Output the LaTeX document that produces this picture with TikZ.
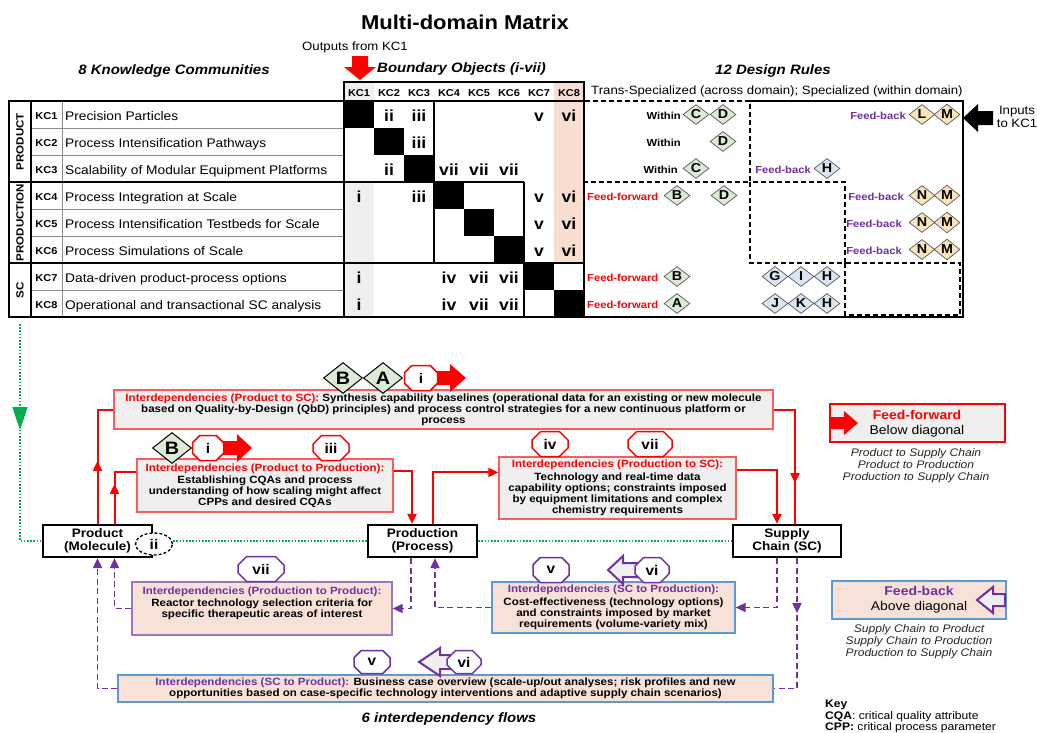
\documentclass[tikz,border=0pt]{standalone}
\usepackage{fontspec}
\setmainfont{Liberation Sans}[FakeStretch=1.1]
\usetikzlibrary{shapes.geometric,shapes.misc,arrows.meta,calc,decorations.markings}

\definecolor{ffred}{HTML}{FF0000}
\definecolor{fbpurple}{HTML}{7030A0}
\definecolor{boxgray}{HTML}{EFEFEF}
\definecolor{peach}{HTML}{F8E2D7}
\definecolor{pinkcol}{HTML}{F8DDD2}
\definecolor{kcgray}{HTML}{EFEFEF}
\definecolor{softred}{HTML}{FF5A5A}
\definecolor{sblue}{HTML}{5B9BD5}
\definecolor{ppedge}{HTML}{9A78C0}
\definecolor{dgreen}{HTML}{DCEBD5}
\definecolor{dblue}{HTML}{DAE6F3}
\definecolor{dyellow}{HTML}{FCE5B8}
\definecolor{dotgreen}{HTML}{00B050}
\definecolor{rulegray}{HTML}{8C8C8C}

\begin{document}
\begin{tikzpicture}[x=1pt,y=-1pt,
  every node/.style={inner sep=0pt},
  maintitle/.style={font=\fontsize{20}{24}\selectfont\bfseries, anchor=base},
  sechead/.style={font=\fontsize{13.6}{16}\selectfont\bfseries\itshape, anchor=base},
  plaintxt/.style={font=\fontsize{12}{14}\selectfont, anchor=base},
  kcname/.style={font=\fontsize{12.5}{14}\selectfont, anchor=base west},
  kclab/.style={font=\fontsize{10}{11}\selectfont\bfseries, anchor=base},
  domlab/.style={font=\fontsize{10.5}{12}\selectfont\bfseries, rotate=90},
  bonum/.style={font=\fontsize{16}{17}\selectfont\bfseries, anchor=base},
  dia/.style={diamond, draw=black!65, line width=0.7pt, minimum width=26pt, minimum height=20pt, font=\fontsize{13}{13}\selectfont\bfseries},
  dgr/.style={dia, fill=dgreen},
  dbl/.style={dia, fill=dblue},
  dyl/.style={dia, fill=dyellow},
  bigdia/.style={diamond, draw=black, line width=1pt, fill=dgreen, minimum width=39pt, minimum height=31pt, font=\fontsize{18}{20}\selectfont\bfseries},
  withinlab/.style={font=\fontsize{10.2}{11}\selectfont\bfseries, anchor=base east},
  ffw/.style={font=\fontsize{10.2}{11}\selectfont\bfseries, text=ffred, anchor=base west},
  fbk/.style={font=\fontsize{10.2}{11}\selectfont\bfseries, text=fbpurple, anchor=base east},
  dashbox/.style={draw=black, line width=1.2pt, dash pattern=on 5pt off 3pt},
  domainbox/.style={draw=black, line width=2.2pt, fill=white, align=center, font=\fontsize{12.3}{12.5}\selectfont\bfseries},
  boxtxt/.style={font=\fontsize{10.5}{11}\selectfont\bfseries, align=center},
  ffbox/.style={boxtxt, draw=softred, line width=1.2pt, fill=boxgray},
  fbbox/.style={boxtxt, draw=sblue, line width=1.2pt, fill=peach},
  ppbox/.style={draw=ppedge, line width=1.2pt, fill=peach},
  octa/.style={chamfered rectangle, chamfered rectangle xsep=6pt, draw, line width=1.5pt, fill=white, minimum height=25pt, font=\fontsize{14}{15}\selectfont\bfseries},
  octr/.style={octa, draw=ffred},
  octp/.style={octa, draw=fbpurple},
  redflow/.style={draw=ffred, line width=2pt},
  purpflow/.style={draw=fbpurple, line width=1.7pt, dash pattern=on 6pt off 3.5pt},
  greenflow/.style={draw=dotgreen, line width=1.6pt, dash pattern=on 1.6pt off 1.6pt},
  arrowend/.style={-{Triangle[width=9pt,length=10pt]}},
  midtip/.style={postaction={decorate}, decoration={markings, mark=at position #1 with {\arrow{Triangle[width=9pt,length=10pt]}}}},
  greentip/.style={postaction={decorate}, decoration={markings, mark=at position #1 with {\arrow{Triangle[width=15pt,length=23pt]}}}},
  legital/.style={font=\fontsize{11}{12}\selectfont\itshape, anchor=base, text=black!85},
  legword/.style={font=\fontsize{12.7}{14}\selectfont, anchor=base},
  keytxt/.style={font=\fontsize{11}{12}\selectfont, anchor=base west}
]
\useasboundingbox (0,0) rectangle (1037,732);
\fill[white] (0,0) rectangle (1037,732);

% ---------- headings ----------
\node[maintitle] (title) at (465,29) {Multi-domain Matrix};
\node[plaintxt] (outkc) at (355,50) {Outputs from KC1};
\node[sechead] (kchead) at (174,74) {8 Knowledge Communities};
\node[sechead, anchor=base west] (bohead) at (377,72) {Boundary Objects (i-vii)};
\node[sechead] (drhead) at (773,74) {12 Design Rules};
\node[font=\fontsize{12}{14}\selectfont, anchor=base west] (drsub) at (591,94) {Trans-Specialized (across domain); Specialized (within domain)};

% red arrow marking the KC1 outputs column
\fill[ffred] (352,56) -- (368,56) -- (368,67) -- (376,67) -- (360,80) -- (344,67) -- (352,67) -- cycle;

% ---------- matrix backgrounds ----------
\fill[kcgray] (344,82) rectangle (374,101);
\fill[kcgray] (344,182) rectangle (374,317);
\fill[pinkcol] (554,82) rectangle (584,263);
\foreach \i in {1,...,8} \fill[black] ({314+30*\i},{74+27*\i}) rectangle +(30,27);

% column header
\draw[line width=1.2pt] (344,82) rectangle (584,101);
\foreach \i in {1,...,8} \node[kclab] (hd\i) at ({329+30*\i},96) {KC\i};

% ---------- knowledge community table ----------
\foreach \y in {128,155,209,236,290} \draw[rulegray, line width=0.8pt] (31,\y) -- (344,\y);
\draw[rulegray, line width=1pt] (62,101) -- (62,317);
\draw[line width=1.2pt] (31,101) -- (31,317);
\draw[line width=1.5pt] (9,182) -- (524,182);
\draw[line width=1.5pt] (9,263) -- (584,263);
\draw[line width=1.5pt] (434,101) -- (434,263);
\draw[line width=1.5pt] (524,182) -- (524,317);
\draw[line width=1.8pt] (9,101) rectangle (344,317);
\draw[line width=1.5pt] (584,82) -- (584,317);
\draw[line width=1.8pt] (344,317) -- (963,317) -- (963,101) -- (750,101);

\foreach \i/\t in {1/Precision Particles, 2/Process Intensification Pathways, 3/Scalability of Modular Equipment Platforms, 4/Process Integration at Scale, 5/Process Intensification Testbeds for Scale, 6/Process Simulations of Scale, 7/Data-driven product-process options, 8/Operational and transactional SC analysis} {
  \node[kclab] (kc\i) at (46.5,{92.5+27*\i}) {KC\i};
  \node[kcname] (name\i) at (65,{93+27*\i}) {\t};
}
\node[domlab] (dprod) at (20,141.5) {PRODUCT};
\node[domlab] (dprodn) at (20,222.5) {PRODUCTION};
\node[domlab] (dsc) at (20,290) {SC};

% boundary objects in the matrix
\foreach \r/\c/\t in {1/2/ii,1/3/iii,1/7/v,1/8/vi,2/3/iii,3/2/ii,3/4/vii,3/5/vii,3/6/vii,4/1/i,4/3/iii,4/7/v,4/8/vi,5/7/v,5/8/vi,6/7/v,6/8/vi,7/1/i,7/4/iv,7/5/vii,7/6/vii,8/1/i,8/4/iv,8/5/vii,8/6/vii}
  \node[bonum] (bo\r\c) at ({329+30*\c},{94.5+27*\r}) {\t};

% ---------- design rules ----------
\draw[dashbox] (584,101) rectangle (750,182);
\draw[dashbox] (750,182) rectangle (845,263);
\draw[dashbox] (845,263) rectangle (960,315);

\node[withinlab] (w1) at (681,119) {Within};
\node[dgr] (r1c) at (696,114.5) {C};
\node[dgr] (r1d) at (723,114.5) {D};
\node[fbk] (fb1) at (906,119) {Feed-back};
\node[dyl] (r1l) at (922,114.5) {L};
\node[dyl] (r1m) at (947,114.5) {M};

\node[withinlab] (w2) at (681,146) {Within};
\node[dgr] (r2d) at (723,141.5) {D};

\node[withinlab] (w3) at (678,173) {Within};
\node[dgr] (r3c) at (696,168.5) {C};
\node[fbk] (fb3) at (811,173) {Feed-back};
\node[dbl] (r3h) at (827,168.5) {H};

\node[ffw] (ff4) at (587,200) {Feed-forward};
\node[dgr] (r4b) at (677,195.5) {B};
\node[dgr] (r4d) at (724,195.5) {D};
\node[fbk] (fb4) at (904,200) {Feed-back};
\node[dyl] (r4n) at (922,195.5) {N};
\node[dyl] (r4m) at (947,195.5) {M};

\node[fbk] (fb5) at (902,227) {Feed-back};
\node[dyl] (r5n) at (922,222.5) {N};
\node[dyl] (r5m) at (947,222.5) {M};

\node[fbk] (fb6) at (902,254) {Feed-back};
\node[dyl] (r6n) at (922,249.5) {N};
\node[dyl] (r6m) at (947,249.5) {M};

\node[ffw] (ff7) at (587,281) {Feed-forward};
\node[dgr] (r7b) at (677,276.5) {B};
\node[dbl] (r7g) at (775,276.5) {G};
\node[dbl] (r7i) at (801,276.5) {I};
\node[dbl] (r7h) at (827,276.5) {H};

\node[ffw] (ff8) at (587,308) {Feed-forward};
\node[dgr] (r8a) at (677,303.5) {A};
\node[dbl] (r8j) at (775,303.5) {J};
\node[dbl] (r8k) at (801,303.5) {K};
\node[dbl] (r8h) at (827,303.5) {H};

% inputs to KC1
\fill[black] (963,118) -- (978,104) -- (978,111) -- (993,111) -- (993,125) -- (978,125) -- (978,132) -- cycle;
\node[font=\fontsize{12}{13}\selectfont, align=center, anchor=north] (inputs) at (1017,106.5) {Inputs\\to KC1};

% ---------- domain nodes ----------
\node[domainbox, minimum width=109pt, minimum height=32pt] (prod) at (97.5,541) {Product\\(Molecule)};
\node[domainbox, minimum width=109pt, minimum height=32pt] (proc) at (422.5,541) {Production\\(Process)};
\node[domainbox, minimum width=108pt, minimum height=32pt] (sc) at (787,541) {Supply\\Chain (SC)};
\node[ellipse, draw, line width=1.3pt, dash pattern=on 3pt off 2pt, fill=white, minimum width=37pt, minimum height=22pt, font=\fontsize{14}{15}\selectfont\bfseries] (iitag) at (154,544) {ii};

% ---------- interdependency boxes ----------
\node[ffbox, minimum width=659pt, minimum height=39pt] (psc) at (443.5,409.5) {\textcolor{ffred}{Interdependencies (Product to SC):} Synthesis capability baselines (operational data for an existing or new molecule\\based on Quality-by-Design (QbD) principles) and process control strategies for a new continuous platform or\\process};

\node[ffbox, minimum width=256pt, minimum height=53pt] (ppr) at (265,485.5) {\textcolor{ffred}{Interdependencies (Product to Production):}\\[1.5pt]Establishing CQAs and process\\understanding of how scaling might affect\\CPPs and desired CQAs};

\node[ffbox, minimum width=237pt, minimum height=62pt] (psctwo) at (617.5,488) {\textcolor{ffred}{Interdependencies (Production to SC):}\\[1.5pt]Technology and real-time data\\capability options; constraints imposed\\by equipment limitations and complex\\chemistry requirements};

\node[ppbox, minimum width=260pt, minimum height=53pt] (pp) at (262,608.5) {};
\node[boxtxt, anchor=north] (pptxt) at (262,586.5) {\textcolor{fbpurple}{Interdependencies (Production to Product):}\\[1.5pt]Reactor technology selection criteria for\\specific therapeutic areas of interest};

\node[fbbox, minimum width=243pt, minimum height=51pt] (scp) at (613.5,607.5) {\textcolor{fbpurple}{Interdependencies (SC to Production):}\\[1.5pt]Cost-effectiveness (technology options)\\and constraints imposed by market\\requirements (volume-variety mix)};

\node[fbbox, minimum width=655pt, minimum height=27pt] (scpr) at (445.5,688.5) {\textcolor{fbpurple}{Interdependencies (SC to Product):} Business case overview (scale-up/out analyses; risk profiles and new\\opportunities based on case-specific technology interventions and adaptive supply chain scenarios)};

% ---------- rule tags and boundary objects on the flows ----------
\node[bigdia] (tb1) at (343,378) {B};
\node[bigdia] (ta1) at (383,378) {A};
\fill[ffred] (437,371) -- (450,371) -- (450,364) -- (466,378) -- (450,392) -- (450,385) -- (437,385) -- cycle;
\node[octr, minimum width=33pt] (oi1) at (421,378) {i};

\node[bigdia] (tb2) at (172,448) {B};
\fill[ffred] (218,441) -- (237,441) -- (237,434) -- (252,448) -- (237,462) -- (237,455) -- (218,455) -- cycle;
\node[octr, minimum width=31pt] (oi2) at (208,448) {i};
\node[octr, minimum width=36pt] (oiii) at (331,448) {iii};
\node[octr, minimum width=36pt] (oiv) at (550,444) {iv};
\node[octr, minimum width=44pt] (ovii1) at (650,444) {vii};

\node[octp, minimum width=46pt] (ovii2) at (261,569) {vii};
\node[octp, minimum width=36pt] (ov1) at (551,570) {v};
\filldraw[fill=boxgray, draw=fbpurple, line width=2pt, line join=miter] (608,570) -- (623,556) -- (623,563) -- (642,563) -- (642,577) -- (623,577) -- (623,584) -- cycle;
\node[octp, minimum width=34pt] (ovi1) at (652,570) {vi};

\node[octp, minimum width=36pt, minimum height=23pt] (ov2) at (372,662) {v};
\filldraw[fill=boxgray, draw=fbpurple, line width=2pt, line join=miter] (419,662) -- (440,648) -- (440,655) -- (455,655) -- (455,669) -- (440,669) -- (440,676) -- cycle;
\node[octp, minimum width=34pt, minimum height=23pt] (ovi2) at (464,662) {vi};

% ---------- feed-forward flows ----------
\draw[redflow, midtip=63pt] (prod.north) |- (psc.west);
\draw[redflow, midtip=40pt] ($(prod.north)+(17,0)$) |- ($(ppr.north west)+(0,14)$);
\draw[redflow, midtip=95pt] (psc.east) -| ($(sc.north)+(8,0)$);
\draw[redflow, arrowend] ($(ppr.north east)+(0,13)$) -| ($(proc.north)+(-10.5,0)$);
\draw[redflow, arrowend] ($(proc.north)+(10,0)$) |- ($(psctwo.north west)+(0,16)$);
\draw[redflow, arrowend] ($(psctwo.north east)+(0,14)$) -| ($(sc.north)+(-10,0)$);

% ---------- feed-back flows ----------
\draw[purpflow, arrowend] ($(proc.south)+(-11.5,0)$) |- (pp.east);
\draw[purpflow, arrowend] (pp.west) -| ($(prod.south)+(17,0)$);
\draw[purpflow, arrowend] (scpr.west) -| (prod.south);
\draw[purpflow, arrowend] (scp.west) -| ($(proc.south)+(12.5,0)$);
\draw[purpflow, arrowend] ($(sc.south)+(-10,0)$) |- (scp.east);
\draw[purpflow, midtip=55pt] ($(sc.south)+(10,0)$) |- (scpr.east);

% ---------- domain sequence (dotted) ----------
\coordinate (gtop) at (20,324);
\draw[greenflow, greentip=106pt] (gtop) |- (prod.west);
\draw[greenflow] (iitag.east |- proc.west) -- (proc.west);
\draw[greenflow] (proc.east) -- (sc.west);

% ---------- legends ----------
\node[draw=ffred, line width=1.5pt, fill=boxgray, minimum width=175pt, minimum height=38pt] (fflegend) at (917.5,423) {};
\fill[ffred] (830,417) -- (844,417) -- (844,411) -- (858,423) -- (844,435) -- (844,429) -- (830,429) -- cycle;
\node[legword, font=\fontsize{12.7}{14}\selectfont\bfseries, text=ffred] (ffword) at (917,419) {Feed-forward};
\node[legword] (ffbelow) at (917,434) {Below diagonal};
\node[legital] (ffl1) at (916,456) {Product to Supply Chain};
\node[legital] (ffl2) at (916,468) {Product to Production};
\node[legital] (ffl3) at (916,480) {Production to Supply Chain};

\node[draw=sblue, line width=1.5pt, fill=peach, minimum width=174pt, minimum height=38pt] (fblegend) at (919,600) {};
\filldraw[fill=boxgray, draw=fbpurple, line width=2pt, line join=miter] (977,600) -- (993,587) -- (993,594) -- (1005,594) -- (1005,606) -- (993,606) -- (993,613) -- cycle;
\node[legword, font=\fontsize{12.7}{14}\selectfont\bfseries, text=fbpurple] (fbword) at (919,595) {Feed-back};
\node[legword] (fbabove) at (919,610) {Above diagonal};
\node[legital] (fbl1) at (919,632) {Supply Chain to Product};
\node[legital] (fbl2) at (919,644) {Supply Chain to Production};
\node[legital] (fbl3) at (919,656) {Production to Supply Chain};

\node[sechead] (flows) at (449,722) {6 interdependency flows};

\node[keytxt, font=\fontsize{11}{12}\selectfont\bfseries] (keyhd) at (825,707) {Key};
\node[keytxt] (key1) at (825,719) {\textbf{CQA}: critical quality attribute};
\node[keytxt] (key2) at (825,730) {\textbf{CPP:} critical process parameter};
\end{tikzpicture}
\end{document}
